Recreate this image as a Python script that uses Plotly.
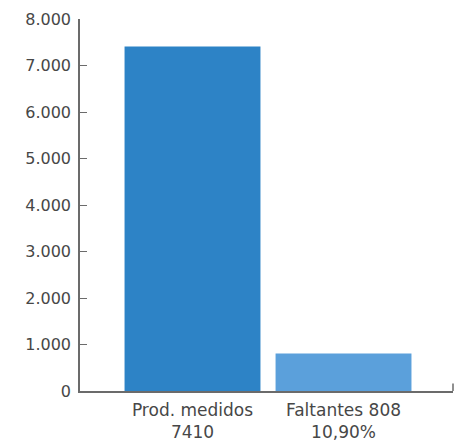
import plotly.graph_objects as go

# Values and labels
categories = ["Prod. medidos<br>7410", "Faltantes 808<br>10,90%"]
values = [7410, 808]
bar_colors = ["#2d83c6", "#5ba0db"]
y_ticks = [0, 1000, 2000, 3000, 4000, 5000, 6000, 7000, 8000]

positions = list(range(len(categories)))

fig = go.Figure(
    go.Bar(
        x=positions,
        y=values,
        width=0.9,
        marker=dict(color=bar_colors, line=dict(width=0)),
        hoverinfo="skip",
    )
)

axis_color = "#6b6b6b"
tick_font = dict(family="DejaVu Sans, sans-serif", size=16, color="#474747")
cat_font = dict(family="DejaVu Sans, sans-serif", size=17, color="#474747")

fig.update_layout(
    width=462,
    height=445,
    margin=dict(l=80, r=9, t=19, b=54),
    paper_bgcolor="white",
    plot_bgcolor="white",
    separators=",.",
    showlegend=False,
    xaxis=dict(
        range=[-0.745, 1.725],
        tickvals=positions,
        ticktext=categories,
        showgrid=False,
        zeroline=False,
        showline=True,
        linecolor=axis_color,
        linewidth=1.5,
        ticks="",
        tickfont=cat_font,
        ticklabelstandoff=3,
        automargin=False,
        fixedrange=True,
    ),
    yaxis=dict(
        range=[0, 8000],
        tickvals=y_ticks,
        tickformat=",d",
        showgrid=False,
        zeroline=False,
        showline=True,
        linecolor=axis_color,
        linewidth=1.5,
        ticks="inside",
        ticklen=7,
        tickwidth=1.2,
        tickcolor=axis_color,
        tickfont=tick_font,
        ticklabelstandoff=4,
        automargin=False,
        fixedrange=True,
    ),
)

# Small end tick at the right end of the category axis
fig.add_shape(
    type="line",
    xref="paper",
    yref="y",
    x0=1,
    x1=1,
    y0=0,
    y1=160,
    line=dict(color=axis_color, width=1.5),
)

fig.write_html("out.html")
